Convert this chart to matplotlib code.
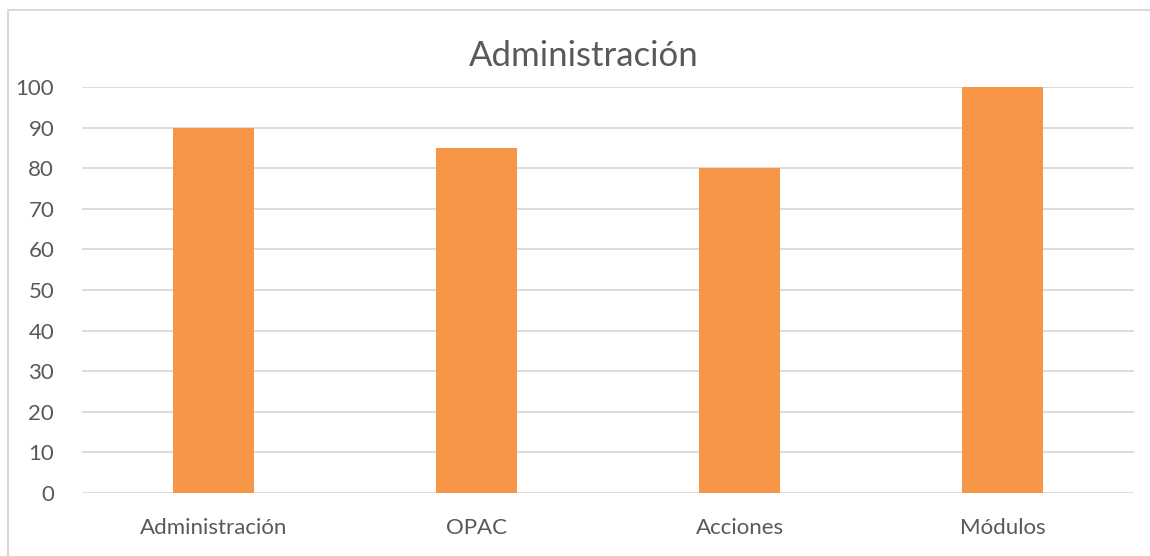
import matplotlib
matplotlib.use("Agg")
import matplotlib.pyplot as plt
from matplotlib.patches import Rectangle

categories = ["Administración", "OPAC", "Acciones", "Módulos"]
values = [90, 85, 80, 100]
yticks = [0, 10, 20, 30, 40, 50, 60, 70, 80, 90, 100]

W, H = 1150, 556
plt.rcParams["font.family"] = ["Lato", "DejaVu Sans"]
fig = plt.figure(figsize=(W / 100, H / 100), dpi=100)

# chart frame
fig.patches.append(Rectangle((8 / W, -0.01), 1.0, 1 - 10 / H + 0.01,
                             transform=fig.transFigure, fill=False,
                             edgecolor="#D9D9D9", linewidth=1.5))

ax = fig.add_axes([82 / W, 1 - 493 / H, (1134 - 82) / W, (493 - 87) / H])
x = range(len(categories))
ax.bar(x, values, width=0.31, color="#F79646", zorder=3)
ax.set_xlim(-0.5, len(categories) - 0.5)
ax.set_ylim(0, 100)
ax.set_yticks(yticks)
ax.set_xticks(list(x))
ax.set_xticklabels(categories)
ax.grid(axis="y", color="#D9D9D9", linewidth=1.3, zorder=0)
for s in ax.spines.values():
    s.set_visible(False)
ax.tick_params(length=0, labelsize=16, labelcolor="#595959")
ax.tick_params(axis="x", pad=18)
ax.tick_params(axis="y", pad=20)
for lbl in ax.get_yticklabels():
    lbl.set_horizontalalignment("right")
fig.text(584 / W, 1 - 56 / H, "Administración", ha="center",
         va="center", fontsize=25, color="#595959")

fig.savefig("out.png", dpi=100)
